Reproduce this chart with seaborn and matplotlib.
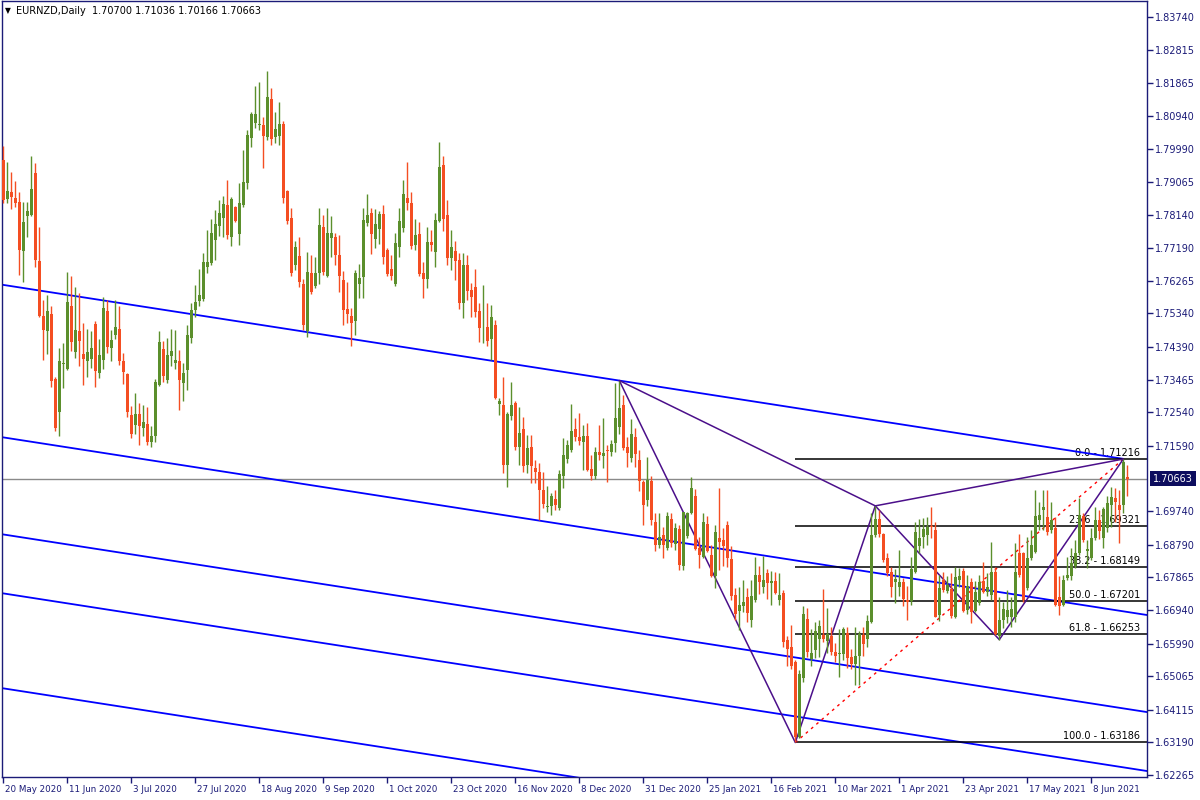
import numpy as np
import pandas as pd
import matplotlib
matplotlib.use("Agg")
import matplotlib.pyplot as plt
import matplotlib.transforms as mtransforms
import seaborn as sns

# ---- daily EURNZD candles, 20 May 2020 .. 17 Jun 2021 ----
opens = [
    1.7969, 1.7859, 1.7879, 1.7861, 1.7851, 1.7712, 1.7810, 1.7813, 1.7933, 1.7683,
    1.7527, 1.7483, 1.7533, 1.7349, 1.7256, 1.7390, 1.7377, 1.7554, 1.7426, 1.7484,
    1.7420, 1.7398, 1.7406, 1.7505, 1.7365, 1.7403, 1.7541, 1.7435, 1.7473, 1.7490,
    1.7400, 1.7363, 1.7247, 1.7219, 1.7250, 1.7211, 1.7221, 1.7169, 1.7186, 1.7332,
    1.7434, 1.7346, 1.7414, 1.7395, 1.7400, 1.7338, 1.7374, 1.7464, 1.7544, 1.7568,
    1.7575, 1.7667, 1.7678, 1.7741, 1.7783, 1.7805, 1.7842, 1.7752, 1.7836, 1.7758,
    1.7840, 1.7905, 1.8032, 1.8075, 1.8068, 1.8068, 1.8035, 1.8142, 1.8035, 1.8037,
    1.8071, 1.7881, 1.7805, 1.7670, 1.7697, 1.7618, 1.7483, 1.7648, 1.7612, 1.7648,
    1.7779, 1.7640, 1.7747, 1.7751, 1.7700, 1.7629, 1.7546, 1.7527, 1.7514, 1.7618,
    1.7638, 1.7790, 1.7818, 1.7745, 1.7774, 1.7816, 1.7714, 1.7660, 1.7618, 1.7721,
    1.7777, 1.7861, 1.7847, 1.7728, 1.7759, 1.7649, 1.7632, 1.7737, 1.7707, 1.7797,
    1.7955, 1.7813, 1.7692, 1.7711, 1.7686, 1.7565, 1.7672, 1.7601, 1.7608, 1.7541,
    1.7500, 1.7496, 1.7463, 1.7502, 1.7278, 1.7275, 1.7105, 1.7245, 1.7280, 1.7157,
    1.7207, 1.7105, 1.7155, 1.7096, 1.7086, 1.7034, 1.6987, 1.6990, 1.7008, 1.6983,
    1.7074, 1.7121, 1.7146, 1.7207, 1.7184, 1.7171, 1.7188, 1.7094, 1.7075, 1.7143,
    1.7130, 1.7147, 1.7143, 1.7166, 1.7212, 1.7275, 1.7157, 1.7124, 1.7185, 1.7119,
    1.7058, 1.7006, 1.7060, 1.6944, 1.6878, 1.6907, 1.6869, 1.6952, 1.6881, 1.6924,
    1.6819, 1.6905, 1.6970, 1.7017, 1.6871, 1.6845, 1.6937, 1.6850, 1.6789, 1.6899,
    1.6891, 1.6935, 1.6839, 1.6737, 1.6690, 1.6704, 1.6730, 1.6666, 1.6723, 1.6793,
    1.6760, 1.6800, 1.6770, 1.6776, 1.6723, 1.6743, 1.6609, 1.6588, 1.6548, 1.6335,
    1.6501, 1.6669, 1.6555, 1.6581, 1.6612, 1.6623, 1.6607, 1.6619, 1.6576, 1.6569,
    1.6570, 1.6628, 1.6562, 1.6541, 1.6565, 1.6623, 1.6612, 1.6661, 1.6907, 1.6951,
    1.6908, 1.6840, 1.6803, 1.6772, 1.6760, 1.6774, 1.6722, 1.6720, 1.6803, 1.6875,
    1.6902, 1.6907, 1.6932, 1.6921, 1.6680, 1.6779, 1.6749, 1.6753, 1.6673, 1.6779,
    1.6805, 1.6694, 1.6772, 1.6692, 1.6713, 1.6777, 1.6746, 1.6737, 1.6803, 1.6619,
    1.6666, 1.6675, 1.6675, 1.6675, 1.6855, 1.6855, 1.6756, 1.6840, 1.6859, 1.6949,
    1.6977, 1.6957, 1.6921, 1.6925, 1.6732, 1.6708, 1.6784, 1.6789, 1.6819, 1.6855,
    1.6960, 1.6862, 1.6840, 1.6897, 1.6949, 1.6899, 1.6925, 1.6992, 1.7012, 1.6992,
    1.6992, 1.70700,
]
highs = [
    1.8009, 1.7964, 1.7936, 1.7908, 1.7879, 1.7851, 1.7851, 1.7980, 1.7960, 1.7780,
    1.7573, 1.7587, 1.7556, 1.7355, 1.7436, 1.7450, 1.7651, 1.7639, 1.7610, 1.7591,
    1.7508, 1.7490, 1.7483, 1.7513, 1.7462, 1.7582, 1.7573, 1.7488, 1.7573, 1.7554,
    1.7423, 1.7365, 1.7272, 1.7308, 1.7280, 1.7275, 1.7268, 1.7216, 1.7348, 1.7485,
    1.7456, 1.7464, 1.7491, 1.7488, 1.7431, 1.7393, 1.7502, 1.7563, 1.7615, 1.7659,
    1.7705, 1.7771, 1.7802, 1.7827, 1.7856, 1.7867, 1.7912, 1.7865, 1.7839, 1.7905,
    1.7997, 1.8054, 1.8106, 1.8179, 1.8191, 1.8092, 1.8222, 1.8173, 1.8106, 1.8133,
    1.8079, 1.7884, 1.7833, 1.7740, 1.7752, 1.7632, 1.7707, 1.7700, 1.7695, 1.7832,
    1.7813, 1.7834, 1.7810, 1.7761, 1.7757, 1.7653, 1.7622, 1.7549, 1.7657, 1.7674,
    1.7832, 1.7873, 1.7832, 1.7830, 1.7825, 1.7840, 1.7719, 1.7700, 1.7761, 1.7832,
    1.7912, 1.7963, 1.7878, 1.7803, 1.7793, 1.7681, 1.7778, 1.7771, 1.7818, 1.8020,
    1.7980, 1.7856, 1.7771, 1.7738, 1.7705, 1.7705, 1.7700, 1.7620, 1.7660, 1.7563,
    1.7615, 1.7563, 1.7557, 1.7516, 1.7294, 1.7355, 1.7256, 1.7341, 1.7285, 1.7270,
    1.7240, 1.7190, 1.7190, 1.7119, 1.7110, 1.7086, 1.7046, 1.7025, 1.7034, 1.7091,
    1.7181, 1.7176, 1.7278, 1.7237, 1.7252, 1.7219, 1.7223, 1.7134, 1.7157, 1.7219,
    1.7237, 1.7162, 1.7176, 1.7336, 1.7344, 1.7303, 1.7185, 1.7234, 1.7209, 1.7147,
    1.7062, 1.7127, 1.7074, 1.6968, 1.6968, 1.6930, 1.6971, 1.6968, 1.6940, 1.6935,
    1.6973, 1.6973, 1.7072, 1.7038, 1.6902, 1.6970, 1.6961, 1.6878, 1.6935, 1.7039,
    1.6926, 1.6946, 1.6874, 1.6756, 1.6760, 1.6779, 1.6756, 1.6779, 1.6843, 1.6819,
    1.6847, 1.6810, 1.6805, 1.6803, 1.6800, 1.6751, 1.6621, 1.6652, 1.6553, 1.6524,
    1.6706, 1.6699, 1.6639, 1.6661, 1.6666, 1.6754, 1.6699, 1.6645, 1.6600, 1.6639,
    1.6647, 1.6647, 1.6583, 1.6647, 1.6635, 1.6647, 1.6680, 1.6968, 1.6989, 1.6977,
    1.6911, 1.6855, 1.6817, 1.6809, 1.6864, 1.6784, 1.6762, 1.6845, 1.6944, 1.6951,
    1.6954, 1.6958, 1.6985, 1.6944, 1.6793, 1.6803, 1.6789, 1.6798, 1.6817, 1.6814,
    1.6812, 1.6793, 1.6784, 1.6777, 1.6793, 1.6831, 1.6800, 1.6888, 1.6817, 1.6732,
    1.6718, 1.6751, 1.6732, 1.6883, 1.6909, 1.6859, 1.6902, 1.6921, 1.7034, 1.7001,
    1.7034, 1.7034, 1.7001, 1.6958, 1.6789, 1.6793, 1.6845, 1.6869, 1.6892, 1.7010,
    1.6970, 1.6892, 1.6925, 1.6987, 1.6977, 1.6987, 1.7017, 1.7043, 1.7039, 1.7034,
    1.71216, 1.71036,
]
lows = [
    1.7846, 1.7848, 1.7830, 1.7837, 1.7643, 1.7622, 1.7752, 1.7810, 1.7667, 1.7523,
    1.7401, 1.7420, 1.7327, 1.7200, 1.7186, 1.7322, 1.7374, 1.7429, 1.7407, 1.7384,
    1.7332, 1.7354, 1.7379, 1.7327, 1.7351, 1.7378, 1.7423, 1.7400, 1.7463, 1.7387,
    1.7335, 1.7240, 1.7181, 1.7193, 1.7162, 1.7186, 1.7162, 1.7157, 1.7171, 1.7329,
    1.7339, 1.7337, 1.7384, 1.7376, 1.7261, 1.7287, 1.7318, 1.7450, 1.7525, 1.7554,
    1.7568, 1.7648, 1.7670, 1.7686, 1.7754, 1.7750, 1.7744, 1.7724, 1.7794, 1.7728,
    1.7837, 1.7888, 1.8005, 1.8059, 1.8054, 1.7945, 1.8026, 1.8011, 1.8018, 1.8010,
    1.7848, 1.7788, 1.7640, 1.7658, 1.7610, 1.7488, 1.7466, 1.7590, 1.7606, 1.7618,
    1.7643, 1.7637, 1.7695, 1.7672, 1.7596, 1.7502, 1.7506, 1.7443, 1.7473, 1.7579,
    1.7579, 1.7783, 1.7703, 1.7719, 1.7732, 1.7674, 1.7641, 1.7629, 1.7613, 1.7695,
    1.7766, 1.7827, 1.7717, 1.7714, 1.7641, 1.7579, 1.7605, 1.7712, 1.7667, 1.7794,
    1.7769, 1.7672, 1.7658, 1.7629, 1.7548, 1.7520, 1.7573, 1.7525, 1.7525, 1.7452,
    1.7450, 1.7442, 1.7403, 1.7291, 1.7247, 1.7082, 1.7042, 1.7233, 1.7148, 1.7105,
    1.7084, 1.7082, 1.7055, 1.7053, 1.6950, 1.6983, 1.6973, 1.6962, 1.6978, 1.6978,
    1.7039, 1.7110, 1.7143, 1.7174, 1.7162, 1.7091, 1.7089, 1.7061, 1.7065, 1.7118,
    1.7096, 1.7058, 1.7130, 1.7143, 1.7193, 1.7147, 1.7100, 1.7114, 1.7100, 1.7032,
    1.6935, 1.6989, 1.6935, 1.6860, 1.6869, 1.6841, 1.6864, 1.6872, 1.6864, 1.6806,
    1.6806, 1.6897, 1.6966, 1.6864, 1.6812, 1.6841, 1.6857, 1.6787, 1.6756, 1.6808,
    1.6819, 1.6817, 1.6723, 1.6666, 1.6636, 1.6687, 1.6661, 1.6647, 1.6718, 1.6740,
    1.6743, 1.6725, 1.6708, 1.6740, 1.6708, 1.6589, 1.6534, 1.6526, 1.63186, 1.6331,
    1.6491, 1.6562, 1.6534, 1.6557, 1.6562, 1.6604, 1.6571, 1.6567, 1.6548, 1.6505,
    1.6553, 1.6529, 1.6526, 1.6482, 1.6482, 1.6564, 1.6590, 1.6658, 1.6902, 1.6902,
    1.6831, 1.6789, 1.6732, 1.6713, 1.6734, 1.6705, 1.6666, 1.6708, 1.6798, 1.6855,
    1.6869, 1.6878, 1.6897, 1.6673, 1.6664, 1.6746, 1.6741, 1.6671, 1.6671, 1.6760,
    1.6687, 1.6683, 1.6658, 1.6687, 1.6708, 1.6741, 1.6735, 1.6722, 1.6623, 1.6610,
    1.6642, 1.6656, 1.6647, 1.6661, 1.6787, 1.6718, 1.6751, 1.6836, 1.6855, 1.6921,
    1.6921, 1.6907, 1.6911, 1.6704, 1.6680, 1.6704, 1.6779, 1.6779, 1.6812, 1.6850,
    1.6888, 1.6812, 1.6836, 1.6892, 1.6894, 1.6871, 1.6916, 1.6928, 1.6944, 1.6885,
    1.6970, 1.70166,
]
closes = [
    1.7856, 1.7881, 1.7865, 1.7848, 1.7714, 1.7792, 1.7825, 1.7887, 1.7686, 1.7528,
    1.7488, 1.7540, 1.7344, 1.7211, 1.7400, 1.7395, 1.7567, 1.7452, 1.7488, 1.7455,
    1.7405, 1.7425, 1.7436, 1.7372, 1.7417, 1.7550, 1.7440, 1.7459, 1.7496, 1.7399,
    1.7367, 1.7256, 1.7193, 1.7250, 1.7216, 1.7226, 1.7171, 1.7187, 1.7339, 1.7452,
    1.7357, 1.7416, 1.7427, 1.7403, 1.7346, 1.7365, 1.7473, 1.7544, 1.7566, 1.7587,
    1.7679, 1.7681, 1.7763, 1.7788, 1.7820, 1.7844, 1.7755, 1.7859, 1.7796, 1.7846,
    1.7907, 1.8040, 1.8099, 1.8099, 1.8070, 1.8037, 1.8146, 1.8029, 1.8057, 1.8071,
    1.7862, 1.7797, 1.7650, 1.7722, 1.7622, 1.7502, 1.7652, 1.7594, 1.7648, 1.7785,
    1.7652, 1.7762, 1.7762, 1.7700, 1.7641, 1.7544, 1.7533, 1.7506, 1.7648, 1.7634,
    1.7799, 1.7813, 1.7760, 1.7788, 1.7816, 1.7695, 1.7646, 1.7639, 1.7733, 1.7796,
    1.7873, 1.7848, 1.7726, 1.7757, 1.7646, 1.7632, 1.7737, 1.7728, 1.7799, 1.7950,
    1.7801, 1.7692, 1.7721, 1.7684, 1.7565, 1.7672, 1.7598, 1.7582, 1.7538, 1.7494,
    1.7502, 1.7455, 1.7523, 1.7294, 1.7287, 1.7105, 1.7250, 1.7275, 1.7155, 1.7195,
    1.7102, 1.7152, 1.7101, 1.7086, 1.7034, 1.6994, 1.6990, 1.7018, 1.6992, 1.7080,
    1.7134, 1.7161, 1.7200, 1.7184, 1.7174, 1.7187, 1.7091, 1.7074, 1.7143, 1.7134,
    1.7140, 1.7145, 1.7164, 1.7237, 1.7267, 1.7152, 1.7140, 1.7192, 1.7136, 1.7060,
    1.6992, 1.7062, 1.6949, 1.6878, 1.6902, 1.6877, 1.6961, 1.6885, 1.6926, 1.6822,
    1.6971, 1.6968, 1.7039, 1.6867, 1.6850, 1.6944, 1.6861, 1.6789, 1.6914, 1.6888,
    1.6874, 1.6841, 1.6735, 1.6683, 1.6708, 1.6718, 1.6685, 1.6734, 1.6793, 1.6772,
    1.6779, 1.6770, 1.6775, 1.6743, 1.6737, 1.6602, 1.6583, 1.6534, 1.6334, 1.6513,
    1.6683, 1.6574, 1.6573, 1.6635, 1.6649, 1.6612, 1.6625, 1.6576, 1.6565, 1.6571,
    1.6640, 1.6559, 1.6541, 1.6565, 1.6625, 1.6598, 1.6664, 1.6907, 1.6952, 1.6908,
    1.6836, 1.6800, 1.6760, 1.6781, 1.6774, 1.6725, 1.6718, 1.6810, 1.6916, 1.6897,
    1.6923, 1.6930, 1.6928, 1.6675, 1.6757, 1.6751, 1.6765, 1.6677, 1.6787, 1.6789,
    1.6692, 1.6762, 1.6688, 1.6746, 1.6774, 1.6746, 1.6760, 1.6803, 1.6626, 1.6666,
    1.6696, 1.6694, 1.6696, 1.6803, 1.6793, 1.6722, 1.6840, 1.6878, 1.6960, 1.6963,
    1.6987, 1.6916, 1.6949, 1.6708, 1.6706, 1.6779, 1.6793, 1.6826, 1.6855, 1.6963,
    1.6892, 1.6866, 1.6897, 1.6949, 1.6919, 1.6979, 1.6996, 1.7015, 1.6999, 1.6977,
    1.7114, 1.70663,
]

date_labels = ["20 May 2020", "11 Jun 2020", "3 Jul 2020", "27 Jul 2020", "18 Aug 2020",
               "9 Sep 2020", "1 Oct 2020", "23 Oct 2020", "16 Nov 2020", "8 Dec 2020",
               "31 Dec 2020", "25 Jan 2021", "16 Feb 2021", "10 Mar 2021", "1 Apr 2021",
               "23 Apr 2021", "17 May 2021", "8 Jun 2021"]
bars_per_label = 16

price_ticks = [1.83740, 1.82815, 1.81865, 1.80940, 1.79990, 1.79065, 1.78140, 1.77190,
               1.76265, 1.75340, 1.74390, 1.73465, 1.72540, 1.71590, 1.69740, 1.68790,
               1.67865, 1.66940, 1.65990, 1.65065, 1.64115, 1.63190, 1.62265]
last_price = 1.70663
header = "EURNZD,Daily  1.70700 1.71036 1.70166 1.70663"

# parallel down-channel lines: price at bar 0, common slope per bar, last bar drawn
channel_start = [1.7615, 1.7183, 1.6908, 1.6741, 1.6472]
channel_slope = -0.000176
channel_end = [280, 286, 286, 286, 286]

# harmonic pattern pivots X, A, B, C, D
pivot_bars = [154, 198, 218, 249, 280]
pivot_prices = [1.7344, 1.63186, 1.6989, 1.6610, 1.71216]

# fibonacci retracement A -> D
fib_names = ["0.0", "23.6", "38.2", "50.0", "61.8", "100.0"]
fib_prices = [1.71216, 1.69321, 1.68149, 1.67201, 1.66253, 1.63186]
fib_start_bar = 198

# ---- styling ----
sns.set_theme(style="white")
plt.rcParams["font.family"] = ["DejaVu Sans"]
navy = "#1b1b78"
up_col, down_col = "#5b8f2c", "#f44e22"
purple = "#4b0f8a"

df = pd.DataFrame({"open": opens, "high": highs, "low": lows, "close": closes})
df["bar"] = np.arange(len(df))
df["up"] = df["close"] >= df["open"]
df["color"] = np.where(df["up"], up_col, down_col)
df["body_lo"] = df[["open", "close"]].min(axis=1)
df["body_h"] = (df["close"] - df["open"]).abs().clip(lower=0.00025)

fig = plt.figure(figsize=(12, 8), dpi=100)
ax = fig.add_axes([2 / 1200, 23 / 800, 1145 / 1200, 776 / 800])
ax.set_facecolor("white")

px = 0.00028331
ax.set_xlim(-0.325, 285.925)
ax.set_ylim(1.8374 - 760 * px, 1.8374 + 16 * px)
xmax = ax.get_xlim()[1]

# channel lines
for p0, xe in zip(channel_start, channel_end):
    xs = np.array([-1, xe])
    ax.plot(xs, p0 + channel_slope * xs, color="#0000ff", lw=1.3, zorder=2)

# fibonacci levels
blend = mtransforms.blended_transform_factory(ax.transAxes, ax.transData)
for name, p in zip(fib_names, fib_prices):
    ax.hlines(p, fib_start_bar, xmax, color="black", lw=1.1, zorder=2)
    ax.annotate(f"{name} - {p:.5f}", xy=(1.0, p), xycoords=blend,
                xytext=(-7, 1), textcoords="offset pixels", ha="right", va="bottom",
                fontsize=7, color="black", zorder=1)

# current price line
ax.axhline(last_price, color="#8a8a8a", lw=1, zorder=1)

# dotted A -> D line
ax.plot([pivot_bars[1], pivot_bars[4]], [pivot_prices[1], pivot_prices[4]],
        color="#ff0000", lw=1, ls=(0, (2, 3)), zorder=2)

# harmonic zig-zag and its cross legs
pat = pd.DataFrame({"bar": pivot_bars, "price": pivot_prices})
sns.lineplot(data=pat, x="bar", y="price", sort=False, estimator=None,
             color=purple, lw=1.1, ax=ax, zorder=2)
for a, b in [(0, 2), (2, 4)]:
    ax.plot([pivot_bars[a], pivot_bars[b]], [pivot_prices[a], pivot_prices[b]],
            color=purple, lw=1.1, zorder=2)

# candles
ax.vlines(df["bar"], df["low"], df["high"], colors=df["color"], lw=1.0, zorder=3)
ax.bar(df["bar"], df["body_h"], bottom=df["body_lo"], width=0.74,
       color=df["color"], linewidth=0, zorder=4)

# axes cosmetics
ax.set_xlabel("")
ax.set_ylabel("")
for s in ax.spines.values():
    s.set_color(navy)
    s.set_linewidth(1)
ax.yaxis.tick_right()
ax.set_yticks(price_ticks)
ax.set_yticklabels([f"{t:.5f}" for t in price_ticks])
ax.tick_params(axis="y", direction="out", length=4, width=1, color=navy,
               labelcolor=navy, labelsize=7, pad=2, right=True, left=False)
ax.set_xticks(np.arange(len(date_labels)) * bars_per_label)
ax.set_xticklabels(date_labels)
ax.tick_params(axis="x", direction="out", length=4, width=1, color=navy,
               labelcolor=navy, labelsize=6.3, pad=2, bottom=True)
shift = mtransforms.ScaledTranslation(2 / 100, 0, fig.dpi_scale_trans)
for lab in ax.get_xticklabels():
    lab.set_horizontalalignment("left")
    lab.set_transform(lab.get_transform() + shift)
ax.grid(False)

# last price box on the price scale
ax.annotate(f"{last_price:.5f}", xy=(1.0, last_price), xycoords=blend,
            xytext=(6, 0), textcoords="offset pixels", ha="left", va="center",
            fontsize=7, color="white", annotation_clip=False,
            bbox=dict(boxstyle="square,pad=0.3", fc="#0d0d5e", ec="none"))

# header
fig.text(5 / 1200, 1 - 11 / 800, "\u25bc", fontsize=5.5, color="black", va="center")
fig.text(16 / 1200, 1 - 11 / 800, header, fontsize=7, color="black", va="center")

fig.savefig("out.png", dpi=100)
